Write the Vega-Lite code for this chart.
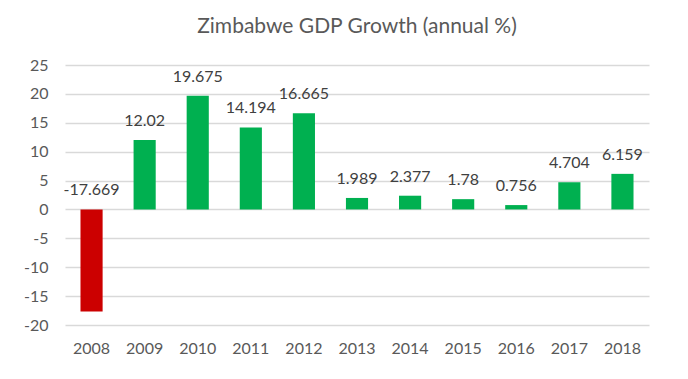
{
  "$schema": "https://vega.github.io/schema/vega-lite/v6.json",
  "width": 584,
  "height": 260,
  "autosize": {"type": "none"},
  "padding": {"left": 65, "top": 65, "right": 39, "bottom": 54},
  "background": "white",
  "config": {
    "view": {"stroke": null},
    "font": "Lato",
    "axis": {"labelFont": "Lato", "labelColor": "#595959", "labelFontSize": 16, "labelOverlap": false},
    "axisY": {
      "domain": false,
      "ticks": false,
      "tickSize": 0,
      "labelPadding": 17,
      "gridColor": "#D9D9D9",
      "gridWidth": 1.3,
      "gridOpacity": 1,
      "labelExpr": "toString(datum.value)"
    }
  },
  "title": {
    "text": "Zimbabwe GDP Growth (annual %)",
    "font": "Lato",
    "fontSize": 21,
    "fontWeight": "normal",
    "color": "#595959",
    "anchor": "middle",
    "frame": "group",
    "offset": 20
  },
  "data": {
    "values": [
      {"year": "2008", "value": -17.669},
      {"year": "2009", "value": 12.02},
      {"year": "2010", "value": 19.675},
      {"year": "2011", "value": 14.194},
      {"year": "2012", "value": 16.665},
      {"year": "2013", "value": 1.989},
      {"year": "2014", "value": 2.377},
      {"year": "2015", "value": 1.78},
      {"year": "2016", "value": 0.756},
      {"year": "2017", "value": 4.704},
      {"year": "2018", "value": 6.159}
    ]
  },
  "transform": [{"calculate": "max(datum.value, 0)", "as": "labelPos"}],
  "encoding": {
    "x": {
      "field": "year",
      "type": "ordinal",
      "scale": {"paddingInner": 0.583, "paddingOuter": 0.2917},
      "axis": {
        "title": null,
        "labelAngle": 0,
        "domain": false,
        "ticks": false,
        "tickSize": 0,
        "labelPadding": 15
      }
    }
  },
  "layer": [
    {
      "mark": {"type": "bar"},
      "encoding": {
        "y": {
          "field": "value",
          "type": "quantitative",
          "scale": {"domain": [-20, 25], "nice": false, "zero": true},
          "axis": {
            "title": null,
            "values": [-20, -15, -10, -5, 0, 5, 10, 15, 20, 25]
          }
        },
        "color": {
          "condition": {"test": "datum.value < 0", "value": "#CC0000"},
          "value": "#00B050"
        }
      }
    },
    {
      "mark": {"type": "text", "baseline": "alphabetic", "dy": -14, "fontSize": 16, "color": "#404040", "font": "Lato"},
      "encoding": {
        "y": {
          "field": "labelPos",
          "type": "quantitative",
          "axis": {
            "title": null,
            "values": [-20, -15, -10, -5, 0, 5, 10, 15, 20, 25]
          }
        },
        "text": {"field": "value", "type": "nominal"}
      }
    }
  ]
}
